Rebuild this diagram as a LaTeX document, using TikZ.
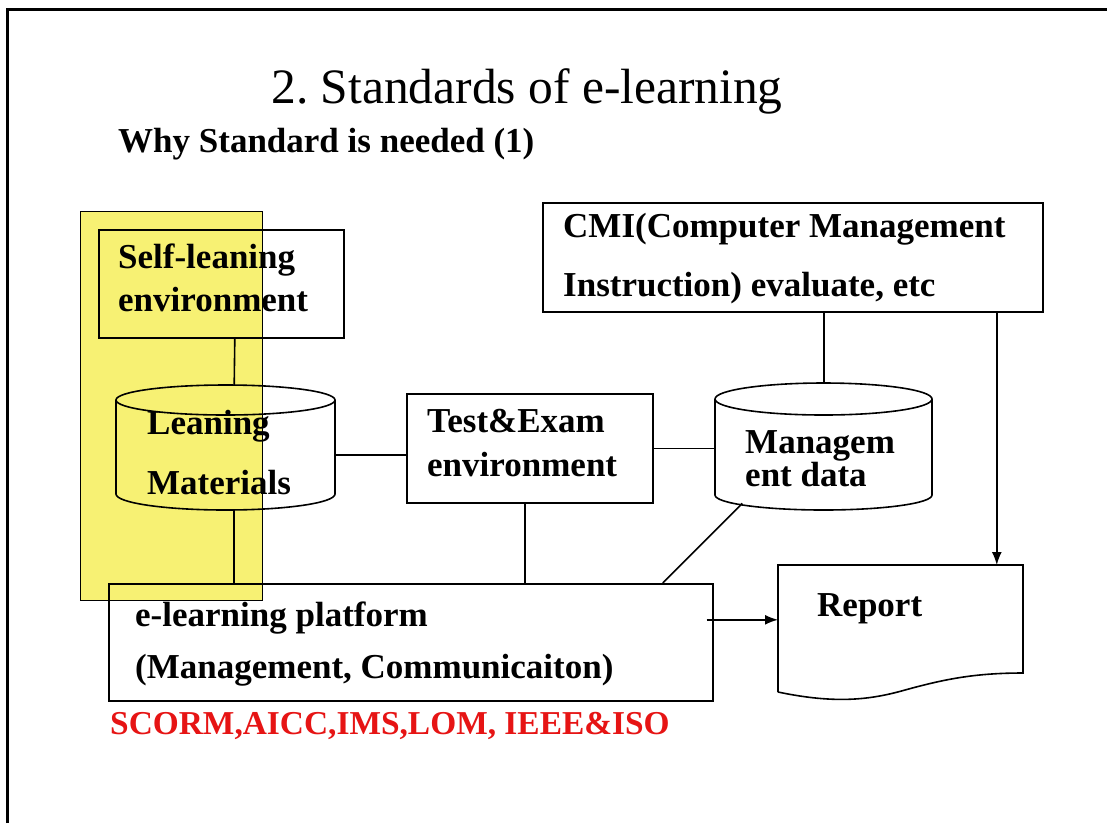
\documentclass[tikz,border=0pt]{standalone}
\usepackage{fontspec}
\setmainfont{Liberation Serif}
\usetikzlibrary{arrows.meta}
\definecolor{hlyellow}{RGB}{247,241,115}
\definecolor{stdred}{RGB}{230,20,20}
\frenchspacing
\begin{document}
\begin{tikzpicture}[x=1pt,y=-1pt,
  box/.style={draw, line width=1.6pt, rectangle, inner sep=0pt, anchor=north west},
  area/.style={inner sep=0pt, rectangle, anchor=north west},
  txt/.style={font=\bfseries\fontsize{35}{35}\selectfont, anchor=base west, inner sep=0pt},
  conn/.style={line width=1.6pt},
  arr/.style={conn, -{Latex[length=13pt,width=10pt]}},
  cyl/.style={line width=1.6pt}]
\useasboundingbox (0,0) rectangle (1107,823);
% frame (left and top edges)
\draw[line width=3pt] (7,823) -- (7,9) -- (1107,9);
% highlight
\node[area, fill=hlyellow, draw, line width=1pt, minimum width=182pt, minimum height=389pt] (hl) at (80,211) {};
% title
\node[anchor=base, inner sep=0pt, font=\fontsize{49.5}{50}\selectfont] (title) at (527,103) {2. Standards of e-learning};
\node[txt] (sub) at (118,152) {Why Standard is needed (1)};
% boxes
\node[box, minimum width=245pt, minimum height=108pt] (self) at (98,229) {};
\node[box, minimum width=246pt, minimum height=109pt] (test) at (406,393) {};
\node[box, minimum width=500pt, minimum height=109pt] (cmi) at (542,202) {};
\node[box, minimum width=604pt, minimum height=117pt] (plat) at (108,583) {};
% cylinders (named areas + outlines)
\node[area, minimum width=219pt, minimum height=125pt] (lm) at (116,385) {};
\draw[cyl] (225.5,400) ellipse [x radius=109.5pt, y radius=15pt];
\draw[cyl] (116,400) -- (116,494) arc[start angle=180, end angle=360, x radius=109.5pt, y radius=16pt] -- (335,400);
\node[area, minimum width=217pt, minimum height=127pt] (md) at (715,383) {};
\draw[cyl] (823.5,399) ellipse [x radius=108.5pt, y radius=16pt];
\draw[cyl] (715,399) -- (715,495) arc[start angle=180, end angle=360, x radius=108.5pt, y radius=15pt] -- (932,399);
% report (document shape)
\node[area, minimum width=245pt, minimum height=135pt] (report) at (778,565) {};
\draw[conn] (778,692) -- (778,565) -- (1023,565) -- (1023,673)
  .. controls (975,673) and (945,679) .. (905,690)
  .. controls (870,700) and (835,704) .. (778,692);
% texts
\node[txt] (selfa) at (118,268) {Self-leaning};
\node[txt] (selfb) at (118,311) {environment};
\node[txt] (lma) at (147,434) {Leaning};
\node[txt] (lmb) at (147,494) {Materials};
\node[txt] (testa) at (427,432) {Test\&Exam};
\node[txt] (testb) at (427,476) {environment};
\node[txt] (mda) at (745,453) {Managem};
\node[txt] (mdb) at (745,486) {ent data};
\node[txt] (cmia) at (563,237) {CMI(Computer Management};
\node[txt] (cmib) at (563,296) {Instruction) evaluate, etc};
\node[txt] (plata) at (135,626) {e-learning platform};
\node[txt] (platb) at (135,678) {(Management, Communicaiton)};
\node[txt] (rep) at (817,616) {Report};
\node[txt, text=stdred, font=\bfseries\fontsize{33.4}{34}\selectfont] (std) at (110,734) {SCORM,AICC,IMS,LOM, IEEE\&ISO};
% connector end points
\coordinate (lmr) at ([yshift=-7.5pt]lm.east);
\coordinate (platr) at ([xshift=-7pt,yshift=22.5pt]plat.east);
\coordinate (cmir) at ([xshift=204pt]cmi.south);
% connectors
\draw[conn] ([xshift=13.5pt]self.south) -- ([xshift=8.5pt]lm.north);
\draw[conn] ([xshift=8.5pt]lm.south) -- ([xshift=8.5pt]lm.south |- plat.north);
\draw[conn] (lmr) -- (test.west |- lmr);
\draw[conn] (test.east) -- (test.east -| md.west);
\draw[conn] ([xshift=-5pt]test.south) -- ([xshift=-5pt]test.south |- plat.north);
\draw[conn] ([xshift=-81.5pt,yshift=7pt]md.south) -- ([xshift=252pt]plat.north);
\draw[conn] (md.north |- cmi.south) -- (md.north);
\draw[arr] (cmir) -- (cmir |- report.north);
\draw[arr] (platr) -- (report.west |- platr);
\end{tikzpicture}
\end{document}
